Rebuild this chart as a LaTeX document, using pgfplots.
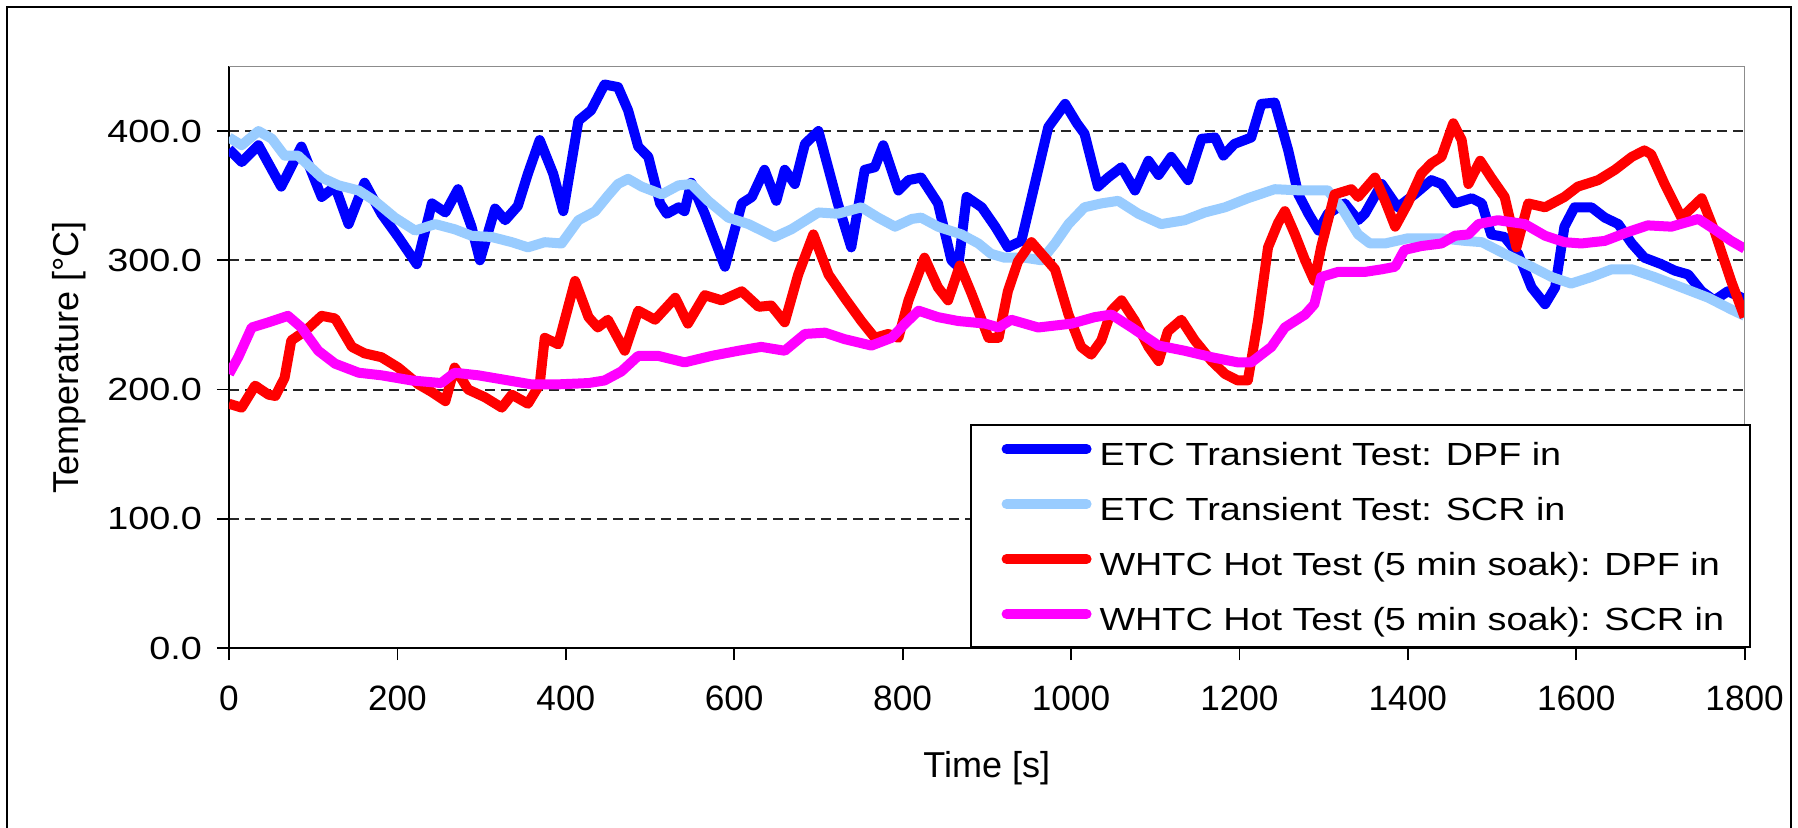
\documentclass[border=0pt]{standalone}
\usepackage{fontspec}
\setmainfont{Liberation Sans}
\newfontfamily\widefont{Liberation Sans}[FakeStretch=1.18]
\usepackage{pgfplots}
\usepackage{pgfplotstable}
\pgfplotsset{compat=1.18}
\definecolor{cBlue}{RGB}{0,0,255}
\definecolor{cLight}{RGB}{153,204,255}
\definecolor{cRed}{RGB}{255,0,0}
\definecolor{cMag}{RGB}{255,0,255}

\pgfplotstableread{
t v
0 386
15 376
35 389
62 357
86 388
110 349
126 357
142 328
161 360
181 336
201 318
223 297
241 344
257 337
272 355
288 326
298 300
316 340
328 331
343 342
355 367
369 393
385 367
397 338
415 408
430 416
446 436
462 434
474 416
486 388
498 380
512 344
520 336
534 341
541 338
549 360
565 336
589 295
609 344
621 349
636 370
650 346
660 370
672 359
684 390
700 400
723 344
739 310
755 370
767 372
777 389
795 354
807 362
822 364
842 344
858 300
866 295
876 349
894 341
910 326
925 310
941 315
957 359
973 403
993 421
1007 406
1016 398
1032 357
1044 364
1060 372
1076 354
1092 377
1104 366
1119 380
1139 362
1155 394
1171 395
1181 381
1194 390
1214 395
1226 421
1242 422
1258 385
1270 351
1282 336
1294 323
1305 336
1325 344
1341 331
1349 336
1369 359
1388 341
1408 351
1428 362
1440 359
1456 344
1476 348
1488 344
1499 320
1515 318
1531 305
1547 279
1563 266
1575 279
1586 326
1598 341
1618 341
1634 333
1650 328
1666 313
1681 302
1701 297
1717 292
1733 289
1749 276
1764 269
1780 276
1800 270
}\etcdpf

\pgfplotstableread{
t v
0 395
15 389
35 400
51 394
66 381
82 381
110 364
130 358
154 354
173 346
197 333
221 323
245 328
268 324
288 319
312 318
336 314
355 310
375 314
395 313
415 331
435 338
450 350
462 359
474 363
490 357
514 351
534 358
549 359
569 346
593 333
617 328
648 318
668 324
700 337
723 336
751 341
771 333
791 326
811 332
822 333
842 326
870 320
890 313
905 305
921 302
945 302
965 300
981 313
997 328
1016 341
1036 344
1056 346
1080 336
1107 328
1135 331
1159 337
1183 341
1210 348
1242 355
1274 354
1305 354
1321 341
1341 320
1355 313
1373 313
1400 317
1440 317
1468 315
1488 314
1515 305
1547 295
1571 287
1594 282
1618 287
1642 293
1666 293
1693 287
1725 279
1757 271
1784 262
1800 257
}\etcscr

\pgfplotstableread{
t v
0 189
15 186
31 203
47 196
55 195
66 209
74 238
90 245
110 257
126 255
146 233
161 228
181 225
201 217
225 204
241 198
257 191
268 217
284 200
304 194
324 186
336 196
355 189
369 204
375 240
391 235
411 284
427 256
438 248
450 254
470 230
486 261
506 254
530 271
545 251
565 273
585 269
609 276
629 264
644 265
660 252
676 289
694 320
712 289
731 271
751 253
767 240
783 243
795 240
807 269
826 302
842 279
854 269
868 296
882 274
902 240
914 240
925 276
937 299
953 314
965 305
981 293
997 258
1012 233
1024 227
1036 238
1048 261
1060 269
1076 253
1092 233
1104 222
1115 245
1131 254
1147 238
1167 222
1183 212
1198 207
1210 207
1222 253
1234 310
1246 329
1254 338
1266 320
1278 300
1289 284
1297 310
1313 351
1333 355
1341 349
1361 364
1373 346
1385 326
1400 344
1416 367
1428 375
1440 380
1454 406
1464 393
1472 359
1486 377
1499 364
1515 349
1529 310
1543 344
1563 341
1586 349
1602 357
1626 362
1646 370
1666 380
1681 385
1689 382
1705 359
1725 333
1749 348
1764 323
1784 284
1800 256
}\whtcdpf

\pgfplotstableread{
t v
0 212
11 225
27 248
47 252
70 257
86 248
106 230
126 220
154 213
181 211
217 207
252 205
268 213
296 211
332 207
359 204
391 204
427 205
446 207
466 214
486 226
510 226
541 221
573 226
605 230
632 233
660 230
684 243
708 244
731 239
763 234
787 240
803 251
819 261
842 256
866 253
898 251
914 248
929 254
961 248
1001 251
1028 256
1048 258
1072 248
1104 234
1135 230
1167 225
1198 221
1214 221
1238 233
1254 248
1278 258
1289 266
1297 287
1317 291
1333 291
1349 291
1369 293
1385 295
1396 308
1416 311
1440 313
1456 319
1472 320
1484 328
1507 331
1539 328
1563 319
1586 314
1606 313
1634 315
1662 322
1685 327
1713 326
1745 332
1764 324
1784 315
1800 309
}\whtcscr

\begin{document}
\begin{tikzpicture}
\useasboundingbox (0,0) rectangle (449.5pt,206.75pt);
\fill[white] (0,0) rectangle (449.5pt,206.75pt);
\begin{axis}[
  at={(57.25pt,44.75pt)}, anchor=south west,
  scale only axis, width=378.9pt, height=145.4pt,
  xmin=0, xmax=1800, ymin=0, ymax=450,
  clip mode=individual,
  axis x line*=bottom, axis y line*=left,
  axis line style={-, line width=0.45pt, black},
  tick align=outside, major tick length=3pt,
  tick style={black, line width=0.45pt},
  xtick={0,200,400,600,800,1000,1200,1400,1600,1800},
  xticklabels={0,200,400,600,800,1000,1200,1400,1600,1800},
  ytick={0,100,200,300,400},
  yticklabels={0.0,100.0,200.0,300.0,400.0},
  xticklabel style={anchor=north, inner sep=0pt, font=\fontsize{8.8}{10}\selectfont},
  yticklabel style={anchor=east, inner sep=0pt, font=\widefont\fontsize{8}{10}\selectfont},
  xticklabel shift=6.35pt,
  yticklabel shift=3.6pt,
  ymajorgrids,
  major grid style={black!85, line width=0.5pt, dash pattern=on 2.4pt off 1.6pt},
  xlabel={Time [s]},
  ylabel={Temperature [°C]},
  label style={font=\fontsize{9}{11}\selectfont},
  xlabel style={at={(axis description cs:0.5,-0.2218)}, anchor=base},
  ylabel style={at={(axis description cs:-0.0996,0.5)}, anchor=base},
  every axis plot/.append style={line width=2.5pt, line join=round},
  legend image code/.code={
    \draw[#1, line width=2.5pt, line cap=round] (1.25pt,4pt) -- (21.25pt,4pt);
    \path (0pt,0pt) (22.5pt,0pt);
  },
  legend style={
    at={(axis description cs:1.0043,0)}, anchor=south east,
    draw=black, line width=0.5pt, fill=white,
    inner xsep=6.5pt, inner ysep=0.25pt,
    row sep=0pt, column sep=0.75pt,
    font=\widefont\fontsize{8}{10}\selectfont,
    cells={anchor=base west},
    nodes={inner sep=0pt, text height=9.75pt, text depth=4pt},
  },
]
\addplot[cBlue] table[x=t, y=v] {\etcdpf};
\addlegendentry{ETC Transient Test: DPF in}
\addplot[cLight] table[x=t, y=v] {\etcscr};
\addlegendentry{ETC Transient Test: SCR in}
\addplot[cRed] table[x=t, y=v] {\whtcdpf};
\addlegendentry{WHTC Hot Test (5 min soak): DPF in}
\addplot[cMag] table[x=t, y=v] {\whtcscr};
\addlegendentry{WHTC Hot Test (5 min soak): SCR in}
\draw[black!45, line width=0.35pt] (rel axis cs:0,1) -- (rel axis cs:1,1) -- (rel axis cs:1,0);
\end{axis}
\draw[line width=0.5pt] (1.75pt,-2pt) -- (1.75pt,205pt) -- (447.75pt,205pt) -- (447.75pt,-2pt);
\end{tikzpicture}
\end{document}
